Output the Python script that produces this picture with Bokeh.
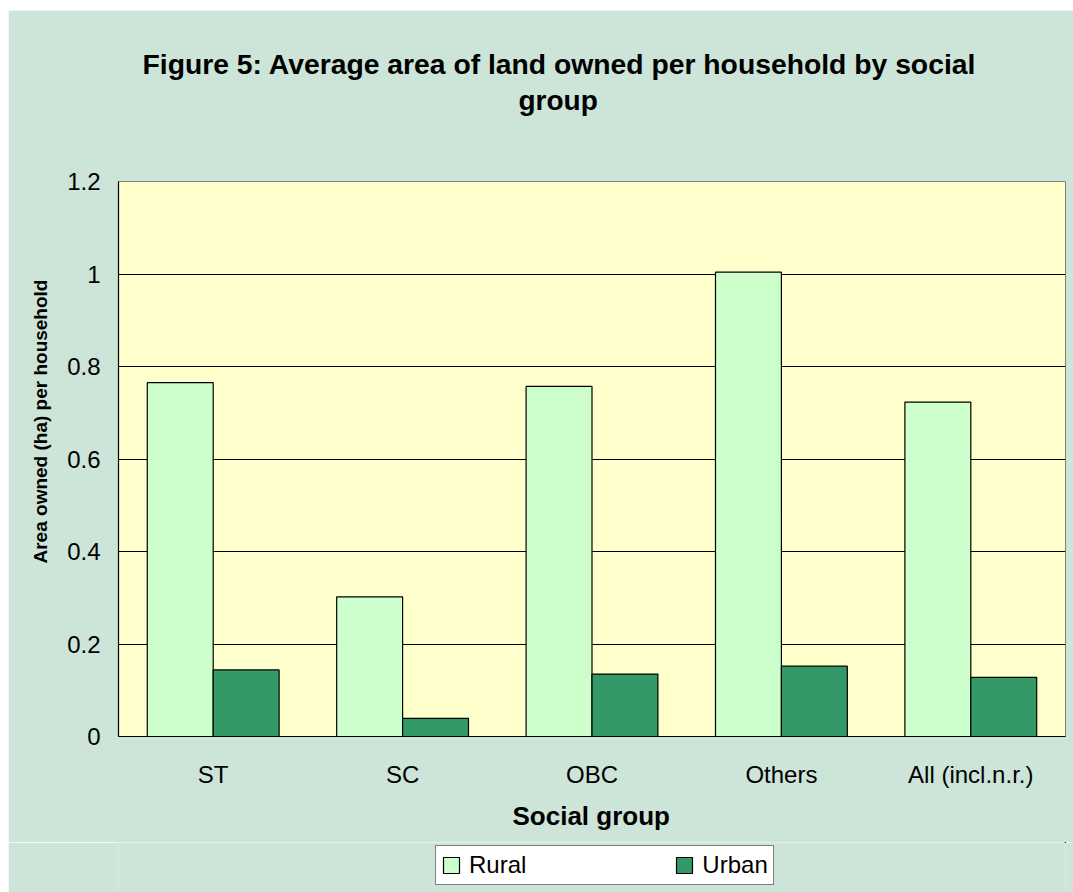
from bokeh.plotting import figure
from bokeh.layouts import column
from bokeh.models import (ColumnDataSource, FactorRange, FixedTicker, NumeralTickFormatter,
                          Title, Legend, LegendItem, Range1d)
from bokeh.transform import dodge
from bokeh.embed import file_html
from bokeh.resources import INLINE

# ---- data ----
groups = ["ST", "SC", "OBC", "Others", "All (incl.n.r.)"]
rural = [0.765, 0.302, 0.757, 1.004, 0.723]
urban = [0.144, 0.039, 0.135, 0.152, 0.128]
series_names = ["Rural", "Urban"]
y_ticks = [0, 0.2, 0.4, 0.6, 0.8, 1.0, 1.2]

title_line1 = "Figure 5: Average area of land owned per household by social"
title_line2 = "group"
x_title = "Social group"
y_title = "Area owned (ha) per household"

FONT = "Liberation Sans"
BG = "#CDE4D9"
PLOT_BG = "#FFFFCC"
RURAL_C = "#CCFFCC"
URBAN_C = "#339966"

src = ColumnDataSource(dict(groups=groups, rural=rural, urban=urban))
bw = 0.348

# ---------------- main chart ----------------
p = figure(width=1065, height=832, x_range=FactorRange(*groups), y_range=Range1d(0, 1.2),
           output_backend="svg", toolbar_location=None, title=None,
           min_border_left=110, min_border_right=8, min_border_top=171, min_border_bottom=106)
p.margin = (10, 0, 0, 8)
p.background_fill_color = PLOT_BG
p.border_fill_color = BG
p.outline_line_color = "#808080"
p.outline_line_width = 1

p.vbar(x=dodge("groups", -bw / 2, range=p.x_range), top="rural", width=bw, source=src,
       fill_color=RURAL_C, line_color="black", line_width=1.2)
p.vbar(x=dodge("groups", bw / 2, range=p.x_range), top="urban", width=bw, source=src,
       fill_color=URBAN_C, line_color="black", line_width=1.2)

p.xgrid.grid_line_color = None
p.ygrid.grid_line_color = "black"
p.ygrid.grid_line_width = 1
p.yaxis.ticker = FixedTicker(ticks=y_ticks)
p.yaxis.formatter = NumeralTickFormatter(format="0.[0]")
for ax in (p.xaxis[0], p.yaxis[0]):
    ax.axis_line_color = "black"
    ax.axis_line_width = 1.2
    ax.major_tick_out = 0
    ax.major_tick_in = 0
    ax.minor_tick_out = 0
    ax.minor_tick_in = 0
    ax.major_label_text_font = FONT
    ax.major_label_text_font_size = "24px"
    ax.major_label_text_color = "black"
p.yaxis.major_label_standoff = 18
p.xaxis.major_label_standoff = 24

# titles (stacked outward from the frame: spacer, line 2, line 1)
spacer = Title(text=" ", text_font=FONT, text_font_size="28px", text_color=BG, standoff=33)
t2 = Title(text=title_line2, align="left", offset=400, text_font=FONT, text_font_size="28px",
           text_font_style="bold", text_color="black", standoff=0)
t1 = Title(text=title_line1, align="left", offset=24, text_font=FONT, text_font_size="28.3px",
           text_font_style="bold", text_color="black", standoff=6)
p.add_layout(spacer, "above")
p.add_layout(t2, "above")
p.add_layout(t1, "above")

yt = Title(text=y_title, align="left", offset=173, text_font=FONT, text_font_size="19px",
           text_font_style="bold", text_color="black", standoff=28)
p.add_layout(yt, "left")

xt = Title(text=x_title, align="left", offset=394, text_font=FONT, text_font_size="26px",
           text_font_style="bold", text_color="black", standoff=16)
p.add_layout(xt, "below")

# ---------------- legend strip ----------------
p2 = figure(width=1065, height=50, x_range=FactorRange(*groups), y_range=Range1d(-20, -10),
            output_backend="svg", toolbar_location=None, title=None,
            x_axis_type=None, y_axis_type=None,
            min_border_left=110, min_border_right=8, min_border_top=0, min_border_bottom=0)
p2.margin = (0, 0, 0, 8)
p2.background_fill_color = BG
p2.border_fill_color = BG
p2.outline_line_color = None
# legend-key renderers (kept outside the visible strip; only their styles are used)
l1 = p2.vbar(x=dodge("groups", 40, range=p2.x_range), top="rural", width=bw, source=src,
             fill_color=RURAL_C, line_color="black", line_width=1.2)
l2 = p2.vbar(x=dodge("groups", 40, range=p2.x_range), top="urban", width=bw, source=src,
             fill_color=URBAN_C, line_color="black", line_width=1.2)

legend = Legend(items=[LegendItem(label=series_names[0], renderers=[l1]),
                       LegendItem(label=series_names[1], renderers=[l2])],
                orientation="horizontal", location=(317, 7),
                padding=5, spacing=148, glyph_width=20, glyph_height=20, label_standoff=8,
                label_text_font=FONT, label_text_font_size="24px", label_text_color="black",
                border_line_color="black", border_line_width=1.2,
                background_fill_color="white", background_fill_alpha=1, margin=0)
p2.add_layout(legend, "center")

layout = column(p, p2, spacing=0)
open("out.html", "w").write(file_html(layout, INLINE))
